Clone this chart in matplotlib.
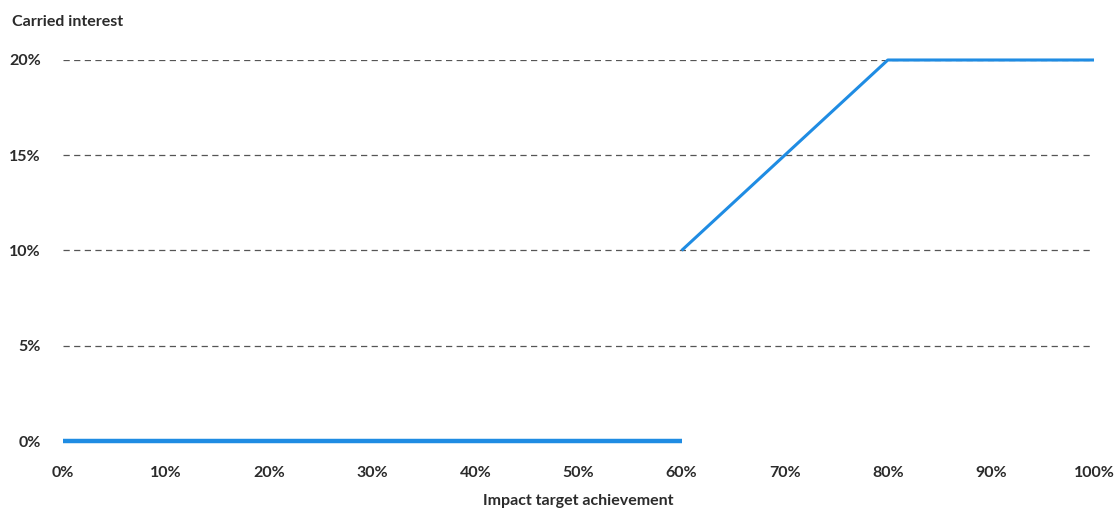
import matplotlib.pyplot as plt
from matplotlib.ticker import FuncFormatter

plt.rcParams['font.family'] = ['Lato', 'DejaVu Sans']
plt.rcParams['font.weight'] = 'bold'

# tramo sin carried interest
logro_bajo = [0, 60]
carry_bajo = [0, 0]
# tramo con carried interest
logro_alto = [60, 80, 100]
carry_alto = [10, 20, 20]

x_ticks = [0, 10, 20, 30, 40, 50, 60, 70, 80, 90, 100]
y_ticks = [0, 5, 10, 15, 20]

azul = '#1f8ce3'
texto = '#2b2b2b'

fig = plt.figure(figsize=(11.16, 5.11), dpi=100)
ax = fig.add_axes([63 / 1116, 1 - 441 / 511, (1094 - 63) / 1116, (441 - 60) / 511])

ax.plot(logro_bajo, carry_bajo, color=azul, linewidth=3.2, clip_on=False, solid_capstyle='butt', zorder=3)
ax.plot(logro_alto, carry_alto, color=azul, linewidth=2.2, clip_on=False, solid_capstyle='butt', zorder=3)

ax.set_xlim(0, 100)
ax.set_ylim(0, 20)
ax.set_xticks(x_ticks)
ax.set_yticks(y_ticks)
ax.xaxis.set_major_formatter(FuncFormatter(lambda v, p: f'{v:.0f}%'))
ax.yaxis.set_major_formatter(FuncFormatter(lambda v, p: f'{v:.0f}%'))

for y in y_ticks[1:]:
    ax.axhline(y, color='#555555', linewidth=0.9, dashes=(5, 3.5), zorder=1)

for s in ax.spines.values():
    s.set_visible(False)
ax.tick_params(length=0, labelsize=11.5, colors=texto)
ax.tick_params(axis='x', pad=18)
ax.tick_params(axis='y', pad=16)

fig.text((63 + 1094) / 2 / 1116, 1 - 501 / 511, 'Impact target achievement', fontsize=11.5,
         color=texto, fontweight='bold', ha='center', va='center')
fig.text(12 / 1116, 1 - 22 / 511, 'Carried interest', fontsize=11.5, color=texto,
         fontweight='bold', ha='left', va='center')

fig.savefig('out.png', dpi=100)
